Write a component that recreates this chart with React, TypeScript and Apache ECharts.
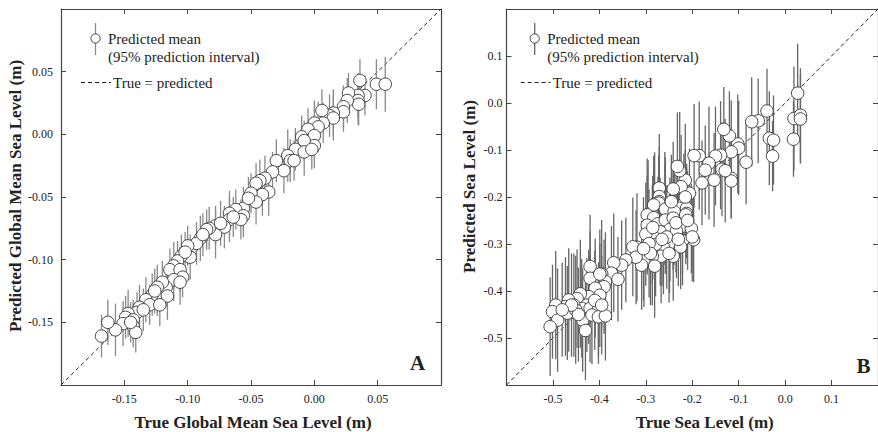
import React, { useEffect, useRef } from "react";
import * as echarts from "echarts";

// ---------- Panel A: global mean sea level ----------
const aTrue = [
  0.036, 0.049, 0.056, 0.040, 0.0345, 0.0345, 0.035, 0.027, 0.026, 0.023,
  0.023, 0.015, 0.012, 0.015, 0.006, 0.007, 0.000, 0.003, -0.005, 0.000,
  -0.010, 0.000, -0.008, -0.015, -0.008, -0.002, -0.021, -0.019, -0.016, -0.024,
  -0.030, -0.033, -0.039, -0.043, -0.046, -0.036, -0.041, -0.050, -0.046, -0.056,
  -0.062, -0.067, -0.056, -0.058, -0.067, -0.071, -0.078, -0.078, -0.083, -0.085,
  -0.090, -0.093, -0.100, -0.098, -0.105, -0.108, -0.111, -0.114, -0.106, -0.104,
  -0.111, -0.106, -0.117, -0.120, -0.124, -0.124, -0.116, -0.128, -0.133, -0.130,
  -0.122, -0.138, -0.140, -0.147, -0.149, -0.143, -0.151, -0.143, -0.141, -0.157,
  -0.163, -0.168, -0.052, -0.064, -0.074, -0.088, -0.102, -0.126, -0.135, -0.145,
];
const aPred = [
  0.043, 0.040, 0.040, 0.031, 0.031, 0.027, 0.024, 0.033, 0.027, 0.022,
  0.018, 0.017, 0.015, 0.013, 0.019, 0.009, 0.009, 0.006, 0.004, -0.001,
  -0.002, -0.009, -0.005, -0.012, -0.014, -0.012, -0.017, -0.021, -0.021, -0.029,
  -0.021, -0.030, -0.035, -0.037, -0.039, -0.046, -0.048, -0.047, -0.054, -0.059,
  -0.060, -0.063, -0.065, -0.068, -0.068, -0.074, -0.073, -0.080, -0.075, -0.076,
  -0.083, -0.087, -0.089, -0.098, -0.097, -0.101, -0.105, -0.108, -0.108, -0.114,
  -0.116, -0.118, -0.122, -0.118, -0.122, -0.129, -0.129, -0.128, -0.132, -0.136,
  -0.136, -0.138, -0.142, -0.143, -0.146, -0.148, -0.151, -0.153, -0.158, -0.156,
  -0.150, -0.161, -0.051, -0.066, -0.071, -0.080, -0.094, -0.125, -0.140, -0.150,
];
const aErr = [
  0.017, 0.020, 0.022, 0.016, 0.018, 0.019, 0.017, 0.016, 0.018, 0.017,
  0.016, 0.019, 0.017, 0.018, 0.017, 0.016, 0.018, 0.020, 0.017, 0.016,
  0.017, 0.018, 0.016, 0.017, 0.019, 0.016, 0.021, 0.017, 0.016, 0.018,
  0.017, 0.016, 0.018, 0.017, 0.016, 0.019, 0.017, 0.016, 0.018, 0.017,
  0.016, 0.018, 0.017, 0.016, 0.018, 0.017, 0.016, 0.019, 0.017, 0.016,
  0.018, 0.017, 0.016, 0.018, 0.017, 0.016, 0.019, 0.017, 0.018, 0.016,
  0.017, 0.018, 0.016, 0.017, 0.018, 0.016, 0.019, 0.017, 0.018, 0.016,
  0.017, 0.018, 0.016, 0.019, 0.017, 0.016, 0.018, 0.017, 0.016, 0.021,
  0.018, 0.017, 0.017, 0.016, 0.018, 0.017, 0.016, 0.018, 0.017, 0.016,
];

// ---------- Panel B: local sea level ----------
const bTrue = [
  0.027, 0.019, 0.033, 0.033, 0.018, -0.039, -0.034, -0.025, -0.027, -0.058,
  -0.072, -0.084, -0.102, -0.100, -0.116, -0.120, -0.132, -0.116, -0.116, -0.136,
  -0.129, -0.139, -0.150, -0.153, -0.164, -0.172, -0.179, -0.185, -0.196, -0.206,
  -0.215, -0.218, -0.224, -0.227, -0.232, -0.241, -0.227, -0.212, -0.239, -0.259,
  -0.271, -0.271, -0.271, -0.281, -0.295, -0.272, -0.283, -0.258, -0.212, -0.239,
  -0.297, -0.283, -0.297, -0.274, -0.258, -0.241, -0.221, -0.202, -0.214, -0.248,
  -0.234, -0.269, -0.286, -0.300, -0.197, -0.221, -0.249, -0.262, -0.279, -0.293,
  -0.225, -0.241, -0.267, -0.286, -0.281, -0.304, -0.309, -0.319, -0.328, -0.321,
  -0.343, -0.352, -0.369, -0.374, -0.360, -0.395, -0.387, -0.420, -0.420, -0.399,
  -0.390, -0.409, -0.399, -0.423, -0.441, -0.448, -0.466, -0.427, -0.438, -0.420,
  -0.402, -0.455, -0.473, -0.494, -0.501, -0.490, -0.506, -0.469, -0.451, -0.436,
  -0.416, -0.402, -0.387, -0.430, -0.255, -0.235, -0.265, -0.290, -0.210, -0.245,
  -0.285, -0.250, -0.230, -0.305, -0.410, -0.445, -0.460, -0.395, -0.480, -0.200,
  -0.215,
];
const bPred = [
  0.021, -0.033, -0.026, -0.034, -0.077, -0.017, -0.075, -0.079, -0.113, -0.038,
  -0.040, -0.126, -0.087, -0.096, -0.104, -0.070, -0.056, -0.160, -0.166, -0.141,
  -0.144, -0.111, -0.113, -0.164, -0.128, -0.143, -0.170, -0.112, -0.112, -0.192,
  -0.164, -0.213, -0.178, -0.144, -0.135, -0.183, -0.224, -0.224, -0.235, -0.224,
  -0.181, -0.199, -0.210, -0.215, -0.237, -0.213, -0.217, -0.226, -0.235, -0.231,
  -0.238, -0.244, -0.260, -0.257, -0.249, -0.245, -0.262, -0.267, -0.238, -0.269,
  -0.272, -0.274, -0.281, -0.279, -0.291, -0.293, -0.299, -0.307, -0.301, -0.299,
  -0.306, -0.326, -0.326, -0.326, -0.347, -0.334, -0.345, -0.307, -0.306, -0.328,
  -0.334, -0.345, -0.340, -0.362, -0.375, -0.364, -0.380, -0.348, -0.373, -0.364,
  -0.391, -0.394, -0.409, -0.412, -0.406, -0.416, -0.419, -0.430, -0.437, -0.437,
  -0.439, -0.430, -0.433, -0.430, -0.444, -0.462, -0.476, -0.447, -0.440, -0.462,
  -0.451, -0.455, -0.453, -0.484, -0.285, -0.255, -0.290, -0.320, -0.250, -0.210,
  -0.265, -0.320, -0.290, -0.310, -0.420, -0.450, -0.430, -0.430, -0.440, -0.285,
  -0.200,
];
const bErr = [
  0.105, 0.110, 0.100, 0.095, 0.080, 0.090, 0.100, 0.095, 0.075, 0.090,
  0.095, 0.090, 0.105, 0.100, 0.110, 0.095, 0.090, 0.085, 0.080, 0.100,
  0.110, 0.115, 0.105, 0.100, 0.120, 0.095, 0.090, 0.115, 0.110, 0.095,
  0.120, 0.105, 0.110, 0.125, 0.115, 0.100, 0.105, 0.095, 0.110, 0.120,
  0.115, 0.105, 0.100, 0.110, 0.115, 0.100, 0.105, 0.110, 0.095, 0.105,
  0.120, 0.110, 0.105, 0.100, 0.115, 0.110, 0.100, 0.095, 0.105, 0.110,
  0.100, 0.115, 0.105, 0.110, 0.090, 0.095, 0.105, 0.100, 0.110, 0.115,
  0.090, 0.095, 0.100, 0.105, 0.110, 0.100, 0.095, 0.115, 0.105, 0.100,
  0.090, 0.095, 0.105, 0.100, 0.090, 0.115, 0.105, 0.110, 0.100, 0.095,
  0.100, 0.105, 0.110, 0.100, 0.115, 0.105, 0.110, 0.100, 0.105, 0.115,
  0.100, 0.110, 0.105, 0.115, 0.100, 0.110, 0.105, 0.100, 0.115, 0.110,
  0.105, 0.100, 0.095, 0.105, 0.110, 0.105, 0.100, 0.110, 0.105, 0.100,
  0.110, 0.105, 0.100, 0.110, 0.105, 0.100, 0.110, 0.105, 0.100, 0.095,
  0.100,
];

const aDiag = [[-0.2, -0.2], [0.1, 0.1]];
const bDiag = [[-0.6, -0.6], [0.2, 0.2]];

const aAxis = { min: -0.2, max: 0.1, interval: 0.05, digits: 2 };
const bAxis = { min: -0.6, max: 0.2, interval: 0.1, digits: 1 };

const SERIF = '"Liberation Serif", "Times New Roman", serif';
const AXIS_COLOR = "#444";

function makeAxis(
  kind: "x" | "y",
  gridIndex: number,
  cfg: { min: number; max: number; interval: number; digits: number },
  position: string,
  labels: boolean,
  margin: number
) {
  return {
    type: "value",
    gridIndex,
    position,
    min: cfg.min,
    max: cfg.max,
    interval: cfg.interval,
    axisLine: { show: true, onZero: false, lineStyle: { color: AXIS_COLOR, width: 1.2 } },
    axisTick: { show: true, inside: true, length: 5, lineStyle: { color: AXIS_COLOR, width: 1 } },
    splitLine: { show: false },
    axisLabel: {
      show: labels,
      showMinLabel: false,
      showMaxLabel: false,
      margin,
      color: "#222",
      fontFamily: SERIF,
      fontSize: 12,
      formatter: (v: number) => v.toFixed(cfg.digits),
    },
  };
}

function errData(t: number[], p: number[], e: number[]) {
  return t.map((x, i) => [x, p[i] - e[i], p[i] + e[i]]);
}

function errSeries(idx: number, data: number[][], color: string) {
  return {
    type: "custom",
    xAxisIndex: idx,
    yAxisIndex: idx,
    z: 2,
    encode: { x: 0, y: [1, 2] },
    data,
    renderItem: (_params: any, api: any) => {
      const x = api.value(0);
      const p1 = api.coord([x, api.value(1)]);
      const p2 = api.coord([x, api.value(2)]);
      return {
        type: "line",
        shape: { x1: p1[0], y1: p1[1], x2: p2[0], y2: p2[1] },
        style: { stroke: color, lineWidth: 1.3 },
      };
    },
  };
}

function text(x: number, y: number, s: string, font: string, align = "left", rotation = 0) {
  return {
    type: "text",
    x,
    y,
    rotation,
    z: 10,
    style: {
      text: s,
      font,
      fill: "#222",
      align,
      textAlign: align,
      verticalAlign: "middle",
      textVerticalAlign: "middle",
    },
  };
}

function legend(cx: number, lx0: number, tx: number, barColor: string) {
  const f = `15px ${SERIF}`;
  return [
    { type: "line", z: 10, shape: { x1: cx, y1: 23, x2: cx, y2: 55 }, style: { stroke: barColor, lineWidth: 1.3 } },
    { type: "circle", z: 11, shape: { cx, cy: 38.5, r: 4.6 }, style: { fill: "#fff", stroke: AXIS_COLOR, lineWidth: 1 } },
    text(cx + 12.5, 38.5, "Predicted mean", f),
    text(cx + 12.5, 57, "(95% prediction interval)", f),
    { type: "line", z: 10, shape: { x1: lx0, y1: 82.5, x2: lx0 + 30, y2: 82.5 }, style: { stroke: "#222", lineWidth: 1, lineDash: [4, 3] } },
    text(lx0 + 32, 82.5, "True = predicted", f),
  ];
}

export default function App() {
  const ref = useRef<HTMLDivElement>(null);
  useEffect(() => {
    if (!ref.current) return;
    const chart = echarts.init(ref.current, null, { renderer: "svg" });
    const titleFont = `bold 17px ${SERIF}`;
    chart.setOption({
      animation: false,
      backgroundColor: "#fff",
      grid: [
        { left: 61, top: 9, width: 380, height: 376 },
        { left: 506.5, top: 9, width: 379, height: 376 },
      ],
      xAxis: [
        makeAxis("x", 0, aAxis, "bottom", true, 8),
        makeAxis("x", 1, bAxis, "bottom", true, 8),
        makeAxis("x", 0, aAxis, "top", false, 8),
        makeAxis("x", 1, bAxis, "top", false, 8),
      ],
      yAxis: [
        makeAxis("y", 0, aAxis, "left", true, 8),
        makeAxis("y", 1, bAxis, "left", true, 4),
        makeAxis("y", 0, aAxis, "right", false, 8),
        makeAxis("y", 1, bAxis, "right", false, 8),
      ],
      series: [
        {
          type: "line",
          xAxisIndex: 0,
          yAxisIndex: 0,
          data: aDiag,
          symbol: "none",
          z: 1,
          lineStyle: { color: "#222", width: 1, type: [4, 3] },
        },
        {
          type: "line",
          xAxisIndex: 1,
          yAxisIndex: 1,
          data: bDiag,
          symbol: "none",
          z: 1,
          lineStyle: { color: "#222", width: 1, type: [4, 3] },
        },
        errSeries(0, errData(aTrue, aPred, aErr), "#8a8a8a"),
        errSeries(1, errData(bTrue, bPred, bErr), "#666"),
        {
          type: "scatter",
          xAxisIndex: 0,
          yAxisIndex: 0,
          z: 3,
          symbol: "circle",
          symbolSize: 12.5,
          data: aTrue.map((x, i) => [x, aPred[i]]),
          itemStyle: { color: "#fff", borderColor: AXIS_COLOR, borderWidth: 1, opacity: 1 },
        },
        {
          type: "scatter",
          xAxisIndex: 1,
          yAxisIndex: 1,
          z: 3,
          symbol: "circle",
          symbolSize: 12.5,
          data: bTrue.map((x, i) => [x, bPred[i]]),
          itemStyle: { color: "#fff", borderColor: AXIS_COLOR, borderWidth: 1, opacity: 1 },
        },
      ],
      graphic: [
        ...legend(95.5, 81, 0, "#8a8a8a"),
        ...legend(534.7, 520.7, 0, "#666"),
        text(253, 422, "True Global Mean Sea Level (m)", titleFont, "center"),
        text(704.7, 422, "True Sea Level (m)", titleFont, "center"),
        text(15, 196, "Predicted Global Mean Sea Level (m)", titleFont, "center", Math.PI / 2),
        text(469, 186.5, "Predicted Sea Level (m)", titleFont, "center", Math.PI / 2),
        text(417.5, 363, "A", `bold 21px ${SERIF}`, "center"),
        text(863.5, 366, "B", `bold 21px ${SERIF}`, "center"),
      ],
    });
    return () => chart.dispose();
  }, []);
  return (
    <div
      ref={ref}
      style={{ position: "fixed", left: 0, top: 0, width: 878, height: 432, background: "#fff", overflow: "hidden" }}
    />
  );
}
